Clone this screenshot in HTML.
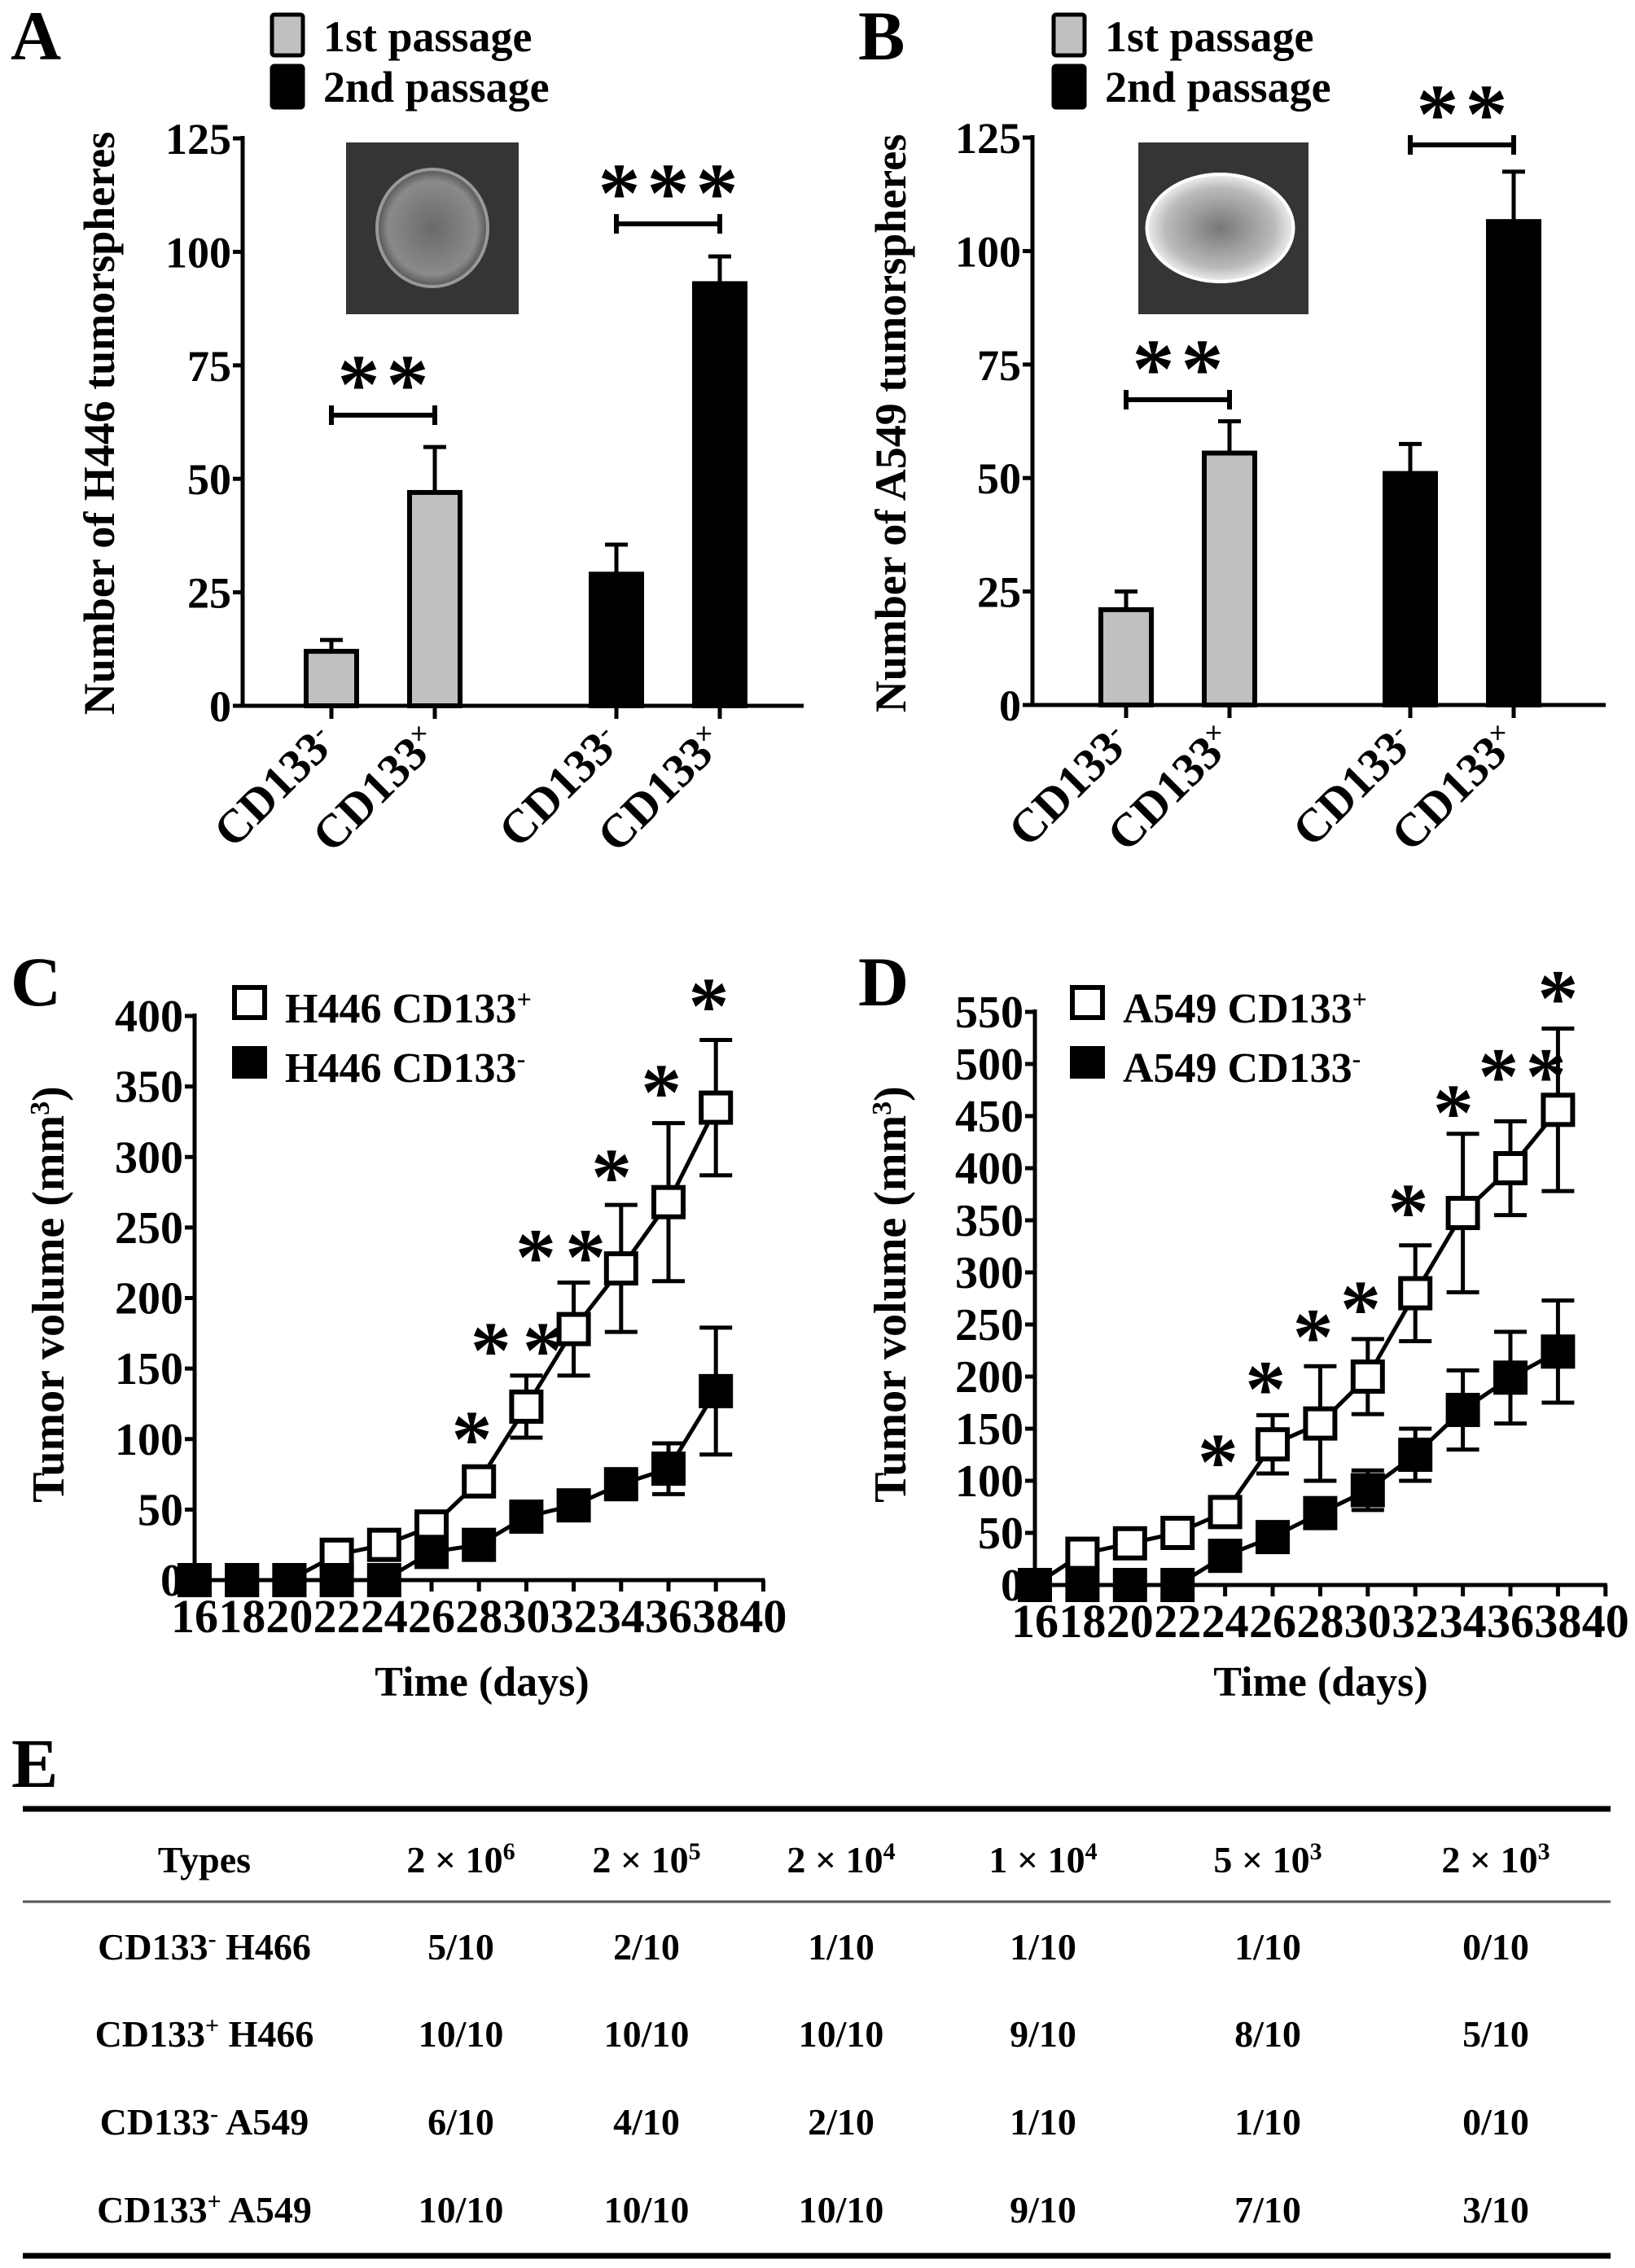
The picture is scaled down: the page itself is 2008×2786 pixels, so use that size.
<!DOCTYPE html>
<html><head><meta charset="utf-8">
<style>
html,body{margin:0;padding:0;background:#fff;}
svg{display:block;}
text{font-family:"Liberation Serif",serif;font-weight:bold;fill:#000;}
</style></head>
<body>
<svg id="fig" width="2008" height="2786" viewBox="0 0 2008 2786" xmlns="http://www.w3.org/2000/svg">
<defs>
<radialGradient id="gA" cx="50%" cy="50%" r="50%">
<stop offset="0%" stop-color="#6a6a6a"/><stop offset="80%" stop-color="#8a8a8a"/><stop offset="100%" stop-color="#555"/>
</radialGradient>
<radialGradient id="gB" cx="50%" cy="50%" r="50%">
<stop offset="0%" stop-color="#777"/><stop offset="75%" stop-color="#bbb"/><stop offset="100%" stop-color="#eee"/>
</radialGradient>
</defs>
<g id="root"></g>
</svg>
<script>
// ---------- Panel A data ----------
const catsA = ["CD133<tspan baseline-shift='super' font-size='34'>-</tspan>","CD133<tspan baseline-shift='super' font-size='34'>×</tspan>","CD133<tspan baseline-shift='super' font-size='34'>-</tspan>","CD133<tspan baseline-shift='super' font-size='34'>×</tspan>"];
const valsA = [12, 47, 29, 93];
const errA = [2.5, 10, 6.5, 6];
// ---------- Panel B data ----------
const valsB = [21, 55.5, 51, 106.5];
const errB = [4, 7, 6.5, 11];
const barTicks = [0, 25, 50, 75, 100, 125];
// ---------- Panel C data ----------
const days = [16,18,20,22,24,26,28,30,32,34,36,38];
const cPlus = [0,0,0,18,25,38,70,123,178,221,268,335];
const cPlusErr = [0,0,0,0,0,0,0,22,33,45,56,48];
const cMinus = [0,0,0,0,0,20,25,45,53,68,79,134];
const cMinusErr = [0,0,0,0,0,0,0,8,0,8,18,45];
const cStarDays = [27.7,28.5,30.7,30.4,32.5,33.6,35.7,37.7];
const cStarVals = [105,168,168,234,234,291,351,412];
const cTicks = [0,50,100,150,200,250,300,350,400];
// ---------- Panel D data ----------
const dPlus = [0,30,40,50,70,135,155,200,280,357,400,456];
const dPlusErr = [0,0,0,0,0,28,55,36,46,76,45,78];
const dMinus = [0,0,0,0,28,46,69,91,125,168,199,224];
const dMinusErr = [0,0,0,0,0,0,0,19,25,38,44,49];
const dStarDays = [23.7,25.7,27.7,29.7,31.7,33.6,35.5,37.5,38.0];
const dStarVals = [125,195,245,272,365,460,495,495,570];
const dTicks = [0,50,100,150,200,250,300,350,400,450,500,550];
const xTickDays = [16,18,20,22,24,26,28,30,32,34,36,38,40];
// ---------- Table data ----------
const tblHead = ["Types","2 × 10<tspan baseline-shift='super' font-size='30'>6</tspan>","2 × 10<tspan baseline-shift='super' font-size='30'>5</tspan>","2 × 10<tspan baseline-shift='super' font-size='30'>4</tspan>","1 × 10<tspan baseline-shift='super' font-size='30'>4</tspan>","5 × 10<tspan baseline-shift='super' font-size='30'>3</tspan>","2 × 10<tspan baseline-shift='super' font-size='30'>3</tspan>"];
const tblRowNames = ["CD133<tspan baseline-shift='super' font-size='30'>-</tspan> H466","CD133<tspan baseline-shift='super' font-size='30'>+</tspan> H466","CD133<tspan baseline-shift='super' font-size='30'>-</tspan> A549","CD133<tspan baseline-shift='super' font-size='30'>+</tspan> A549"];
const tblRow1 = ["5/10","2/10","1/10","1/10","1/10","0/10"];
const tblRow2 = ["10/10","10/10","10/10","9/10","8/10","5/10"];
const tblRow3 = ["6/10","4/10","2/10","1/10","1/10","0/10"];
const tblRow4 = ["10/10","10/10","10/10","9/10","7/10","3/10"];

const NS="http://www.w3.org/2000/svg";
const root=document.getElementById('root');
function mk(tag,attrs,parent){const e=document.createElementNS(NS,tag);for(const k in attrs)e.setAttribute(k,attrs[k]);(parent||root).appendChild(e);return e;}
function txt(x,y,s,size,anchor,parent){const t=mk('text',{x:x,y:y,'font-size':size,'text-anchor':anchor||'start'},parent);t.innerHTML=s;return t;}
function line(x1,y1,x2,y2,w,parent){return mk('line',{x1:x1,y1:y1,x2:x2,y2:y2,stroke:'#000','stroke-width':w||5},parent);}

// ===== Bar panels =====
function barPanel(o){
  const g=mk('g',{});
  
  
  const y=v=>o.y0-(v/125)*(o.y0-o.y125);
  const xc=i=>o.x1+i*o.step+(i>=2?o.gap:0);
  const lbl=txt(o.lx,73,o.letter,86,'start',g);
  
  
  const l1=mk('rect',{x:o.legX,y:18,width:38,height:50,fill:'#c0c0c0',stroke:'#000','stroke-width':5,rx:3},g);
  
  
  const l2=mk('rect',{x:o.legX,y:81,width:38,height:51,fill:'#000',stroke:'#000','stroke-width':5,rx:3},g);
  
  
  const t1=txt(o.legX+63,63,'1st passage',54,'start',g);
  
  
  const t2=txt(o.legX+63,125,'2nd passage',54,'start',g);
  
  
  const ins=mk('rect',{x:o.insX,y:175,width:o.insW,height:211,fill:'#353535'},g);
  
  
  const blob=mk('ellipse',{cx:o.insX+o.insW/2+(o.blobDx||0),cy:280,rx:o.rx,ry:o.ry,fill:o.blobFill,stroke:o.blobStroke,'stroke-width':4},g);
  
  
  const ax=line(o.ax,o.y125-3,o.ax,o.y0+2,5,g);
  
  
  const bx=line(o.ax-12,o.y0,o.xEnd,o.y0,5,g);
  
  
  barTicks.forEach(v=>{
    line(o.ax-12,y(v),o.ax,y(v),5,g);
    const t=txt(o.ax-14,y(v)+19,String(v),54,'end',g);
    
    
  });
  const yl=txt(0,0,o.ylab,54,'middle',g);
  yl.setAttribute('transform','translate('+(o.ylx)+',520) rotate(-90)');
  
  
  o.vals.forEach((v,i)=>{
    const cx=xc(i);
    const b=mk('rect',{x:cx-31,y:y(v),width:62,height:o.y0-y(v),fill:i<2?'#c0c0c0':'#000',stroke:'#000','stroke-width':6},g);
    
    
    const et=y(v+o.err[i]);
    const e1=line(cx,y(v),cx,et,5,g);
    
    
    line(cx-14,et,cx+14,et,5,g);
    line(cx,o.y0,cx,o.y0+16,5,g);
    const t=txt(0,0,catsA[i],58,'end',g);
    t.setAttribute('transform','translate('+(cx+8)+','+(o.y0+48)+') rotate(-45)');
    
    
  });
  o.sig.forEach(s=>{
    const xa=xc(s.a), xb=xc(s.b), yy=s.y;
    const br=line(xa,yy,xb,yy,6,g);
    
    
    line(xa,yy-12,xa,yy+12,6,g);line(xb,yy-12,xb,yy+12,6,g);
    const n=s.n, sp=60, mid=(xa+xb)/2;
    for(let k=0;k<n;k++){
      const st=txt(mid+(k-(n-1)/2)*sp,yy-3,'*',104,'middle',g);
      
      
    }
  });
}
barPanel({name:'panel-a',letter:'A',lx:13,legX:334,insX:425,insW:212,rx:68,ry:72,blobFill:'url(#gA)',blobStroke:'#999',
  ax:298,y0:867,y125:170,xEnd:987,x1:407,step:127,gap:96,vals:valsA,err:errA,
  ylab:'Number of H446 tumorspheres',ylx:140,
  sig:[{a:0,b:1,y:510,n:2},{a:2,b:3,y:275,n:3}]});
barPanel({name:'panel-b',letter:'B',lx:1054,legX:1294,insX:1398,insW:209,rx:90,ry:66,blobDx:-4,blobFill:'url(#gB)',blobStroke:'#fff',
  ax:1268,y0:866,y125:169,xEnd:1972,x1:1383,step:127,gap:95,vals:valsB,err:errB,
  ylab:'Number of A549 tumorspheres',ylx:1112,
  sig:[{a:0,b:1,y:491,n:2},{a:2,b:3,y:178,n:2}]});

// ===== Line panels =====
function linePanel(o){
  const g=mk('g',{});
  
  
  const x=d=>o.ax+(d-16)*o.perDay;
  const y=v=>o.y0-v*o.perUnit;
  const lbl=txt(o.lx,1235,o.letter,86,'start',g);
  
  
  const top=y(o.ticks[o.ticks.length-1]);
  const ya=line(o.ax,top-3,o.ax,o.y0+2,5,g);
  
  
  const xa=line(o.ax-12,o.y0,x(40)+2,o.y0,5,g);
  
  
  o.ticks.forEach(v=>{
    line(o.ax-12,y(v),o.ax,y(v),5,g);
    const t=txt(o.ax-14,y(v)+19,String(v),56,'end',g);
    
    
  });
  xTickDays.forEach(d=>{
    line(x(d),o.y0,x(d),o.y0+14,5,g);
    const t=txt(x(d),o.y0+64,String(d),58,'middle',g);
    
    
  });
  const xt=txt(o.xtx,2083,'Time (days)',52,'middle',g);
  
  
  const yt=txt(0,0,'Tumor volume (mm<tspan baseline-shift="super" font-size="34">3</tspan>)',56,'middle',g);
  yt.setAttribute('transform','translate('+o.ytx+',1590) rotate(-90)');
  
  
  function series(vals,errs,filled,nm){
    const pts=days.map((d,i)=>x(d)+','+y(vals[i])).join(' ');
    const pl=mk('polyline',{points:pts,fill:'none',stroke:'#000','stroke-width':5},g);
    
    
    days.forEach((d,i)=>{
      if(errs[i]>0){
        const eb=line(x(d),y(vals[i]+errs[i]),x(d),y(vals[i]-errs[i]),5,g);
        
        
        line(x(d)-20,y(vals[i]+errs[i]),x(d)+20,y(vals[i]+errs[i]),5,g);
        line(x(d)-20,y(vals[i]-errs[i]),x(d)+20,y(vals[i]-errs[i]),5,g);
      }
    });
    days.forEach((d,i)=>{
      const r=mk('rect',{x:x(d)-18,y:y(vals[i])-18,width:36,height:36,fill:filled?'#000':'#fff',stroke:'#000','stroke-width':6},g);
      
      
    });
  }
  series(o.plus,o.plusErr,false,'cd133-plus');
  series(o.minus,o.minusErr,true,'cd133-minus');
  o.sd.forEach((d,i)=>{
    const st=txt(x(d),y(o.sv[i])+42,'*',100,'middle',g);
    
    
  });
  const s1=mk('rect',{x:o.legX,y:1213,width:37,height:37,fill:'#fff',stroke:'#000','stroke-width':6},g);
  
  
  const s2=mk('rect',{x:o.legX,y:1288,width:37,height:34,fill:'#000',stroke:'#000','stroke-width':6},g);
  
  
  const t1=txt(o.legX+62,1256,o.cell+' CD133<tspan baseline-shift="super" font-size="32">+</tspan>',52,'start',g);
  
  
  const t2=txt(o.legX+62,1329,o.cell+' CD133<tspan baseline-shift="super" font-size="32">-</tspan>',52,'start',g);
  
  
}
linePanel({name:'panel-c',letter:'C',lx:13,ax:239,y0:1941,perDay:29.1,perUnit:693/400,ticks:cTicks,
  plus:cPlus,plusErr:cPlusErr,minus:cMinus,minusErr:cMinusErr,sd:cStarDays,sv:cStarVals,
  legX:288,cell:'H446',xtx:592,ytx:78});
linePanel({name:'panel-d',letter:'D',lx:1054,ax:1271,y0:1947,perDay:29.2,perUnit:704/550,ticks:dTicks,
  plus:dPlus,plusErr:dPlusErr,minus:dMinus,minusErr:dMinusErr,sd:dStarDays,sv:dStarVals,
  legX:1317,cell:'A549',xtx:1622,ytx:1112});

// ===== Table =====
(function(){
  const g=mk('g',{});
  
  
  const lbl=txt(14,2195,'E',86,'start',g);
  
  
  const colX=[251,566,794,1033,1281,1557,1837];
  const r1=line(28,2222,1978,2222,7,g);
  
  
  const r2=mk('line',{x1:28,y1:2336,x2:1978,y2:2336,stroke:'#555','stroke-width':3},g);
  
  
  const r3=line(28,2771,1978,2771,7,g);
  
  
  tblHead.forEach((h,i)=>{
    const t=txt(colX[i],2300,h,46,'middle',g);
    
    
  });
  const rows=[tblRow1,tblRow2,tblRow3,tblRow4];
  const base=[2407,2514,2622,2730];
  rows.forEach((r,ri)=>{
    const n=txt(colX[0],base[ri],tblRowNames[ri],46,'middle',g);
    
    
    r.forEach((c,ci)=>{
      const t=txt(colX[ci+1],base[ri],c,46,'middle',g);
      
      
    });
  });
})();
</script>
</body></html>
